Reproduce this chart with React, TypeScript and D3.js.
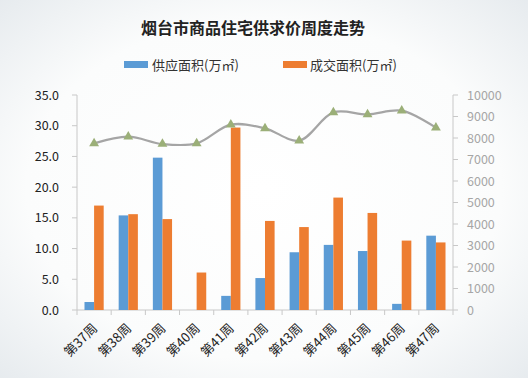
import React from "react";
import * as d3 from "d3";

const weeks = ["第37周", "第38周", "第39周", "第40周", "第41周", "第42周", "第43周", "第44周", "第45周", "第46周", "第47周"];
const supply = [1.3, 15.4, 24.8, 0, 2.3, 5.2, 9.4, 10.6, 9.6, 1.0, 12.1];
const deal = [17.0, 15.6, 14.8, 6.1, 29.7, 14.5, 13.5, 18.3, 15.8, 11.3, 11.0];
const price = [7750, 8060, 7720, 7750, 8620, 8450, 7880, 9190, 9100, 9270, 8480];
const leftTicks = [0, 5, 10, 15, 20, 25, 30, 35];
const rightTicks = [0, 1000, 2000, 3000, 4000, 5000, 6000, 7000, 8000, 9000, 10000];
const title = "烟台市商品住宅供求价周度走势";
const seriesNames = ["供应面积(万㎡)", "成交面积(万㎡)"];

const W = 528, H = 378;
const left = 77, right = 453, top = 95, bottom = 310;
const font = "'Microsoft YaHei','Noto Sans CJK SC','Open Sans',sans-serif";
const blue = "#5B9BD5", orange = "#ED7D31", lineColor = "#a5a5a5", markerColor = "#9BAF78", axisColor = "#c8c8c8";

export default function App() {
  const x = d3.scaleBand<string>().domain(weeks).range([left, right]).padding(0);
  const yL = d3.scaleLinear().domain([0, 35]).range([bottom, top]);
  const yR = d3.scaleLinear().domain([0, 10000]).range([bottom, top]);
  const bw = 9.6;
  const line = d3
    .line<number>()
    .x((_, i) => (x(weeks[i]) as number) + x.bandwidth() / 2)
    .y((d) => yR(d))
    .curve(d3.curveCatmullRom.alpha(0.5));
  const tri = d3.symbol().type(d3.symbolTriangle).size(42)();

  return (
    <svg width={W} height={H} style={{ position: "absolute", left: 0, top: 0 }} fontFamily={font}>
      <defs>
        <radialGradient id="bg" cx="50%" cy="50%" r="75%">
          <stop offset="0%" stopColor="#ffffff" />
          <stop offset="60%" stopColor="#fbfcfc" />
          <stop offset="100%" stopColor="#e3e8ec" />
        </radialGradient>
      </defs>
      <rect x={0} y={0} width={W} height={H} fill="url(#bg)" />
      <text x={253} y={34} textAnchor="middle" fontSize={16} fontWeight="bold" fill="#222">
        {title}
      </text>
      {/* legend */}
      <rect x={124} y={61} width={24} height={7} fill={blue} />
      <text x={152} y={69.5} fontSize={13} fill="#333">{seriesNames[0]}</text>
      <rect x={283} y={61} width={24} height={7} fill={orange} />
      <text x={310} y={69.5} fontSize={13} fill="#333">{seriesNames[1]}</text>

      {/* axes */}
      <line x1={left} x2={left} y1={top} y2={bottom} stroke={axisColor} />
      <line x1={right} x2={right} y1={top} y2={bottom} stroke={axisColor} />
      <line x1={left} x2={right} y1={bottom} y2={bottom} stroke={axisColor} />
      {leftTicks.map((t) => (
        <g key={"l" + t}>
          <line x1={left - 5} x2={left} y1={yL(t)} y2={yL(t)} stroke={axisColor} />
          <text x={59} y={yL(t) + 4.5} textAnchor="end" fontSize={12.5} fill="#222">
            {t.toFixed(1)}
          </text>
        </g>
      ))}
      {rightTicks.map((t) => (
        <g key={"r" + t}>
          <line x1={right} x2={right + 5} y1={yR(t)} y2={yR(t)} stroke={axisColor} />
          <text x={467} y={yR(t) + 4.5} textAnchor="start" fontSize={12.5} fill="#a6a6a6">
            {t}
          </text>
        </g>
      ))}
      {weeks.map((w, i) => {
        const x0 = x(w) as number;
        return (
          <line key={"t" + i} x1={x0} x2={x0} y1={bottom} y2={bottom + 5} stroke={axisColor} />
        );
      })}
      <line x1={right} x2={right} y1={bottom} y2={bottom + 5} stroke={axisColor} />

      {/* bars */}
      {weeks.map((w, i) => {
        const cx = (x(w) as number) + x.bandwidth() / 2;
        return (
          <g key={"b" + i}>
            <rect x={cx - bw} y={yL(supply[i])} width={bw} height={bottom - yL(supply[i])} fill={blue} />
            <rect x={cx} y={yL(deal[i])} width={bw} height={bottom - yL(deal[i])} fill={orange} />
          </g>
        );
      })}

      {/* price line */}
      <path d={line(price) as string} fill="none" stroke={lineColor} strokeWidth={2.2} />
      {price.map((p, i) => (
        <path
          key={"m" + i}
          d={tri as string}
          transform={`translate(${(x(weeks[i]) as number) + x.bandwidth() / 2},${yR(p)})`}
          fill={markerColor}
        />
      ))}

      {/* x labels */}
      {weeks.map((w, i) => {
        const cx = (x(w) as number) + x.bandwidth() / 2;
        return (
          <text
            key={"x" + i}
            transform={`translate(${cx + 4},${bottom + 19}) rotate(-45)`}
            textAnchor="end"
            fontSize={13}
            fill="#222"
          >
            {w}
          </text>
        );
      })}
    </svg>
  );
}
